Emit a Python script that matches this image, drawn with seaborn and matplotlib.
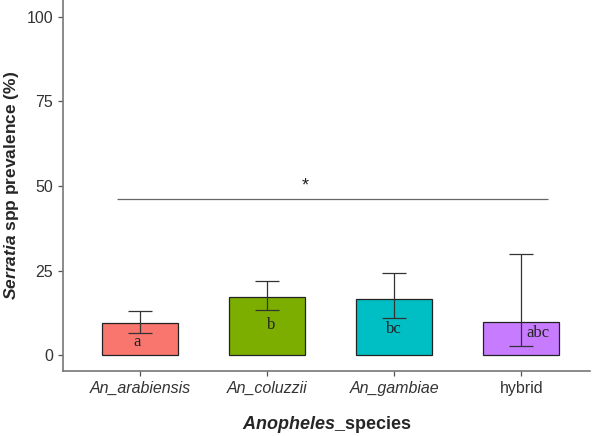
import numpy as np
import pandas as pd
import matplotlib
matplotlib.use("Agg")
import matplotlib.pyplot as plt
import seaborn as sns

species = ["An_arabiensis", "An_coluzzii", "An_gambiae", "hybrid"]
prevalence = [9.5, 17.2, 16.6, 9.9]
ci_low = [6.5, 13.3, 11.0, 2.7]
ci_high = [13.0, 21.9, 24.3, 29.9]
letters = ["a", "b", "bc", "abc"]
letter_y = [3.8, 8.9, 7.7, 6.5]
letter_dx = [-0.02, 0.03, 0.0, 0.13]
colors = ["#F8766D", "#7CAE00", "#00BFC4", "#C77CFF"]
sig_y = 46.1

sns.set_style("white")
plt.rcParams["font.family"] = ["Liberation Sans", "DejaVu Sans"]
plt.rcParams["mathtext.fontset"] = "custom"
plt.rcParams["mathtext.rm"] = "Liberation Sans:bold"
plt.rcParams["mathtext.it"] = "Liberation Sans:italic:bold"
plt.rcParams["mathtext.bf"] = "Liberation Sans:bold"

df = pd.DataFrame({"species": species, "prevalence": prevalence})

fig = plt.figure(figsize=(5.97, 4.36), dpi=100)
ax = fig.add_axes([0.1055, 0.149, 0.8825, 0.851])

sns.barplot(data=df, x="species", y="prevalence", hue="species", palette=colors,
            saturation=1, width=0.6, edgecolor="#222222", linewidth=0.9,
            legend=False, ax=ax)

pos = np.arange(len(species))
yerr = [np.array(prevalence) - np.array(ci_low), np.array(ci_high) - np.array(prevalence)]
ax.errorbar(pos, prevalence, yerr=yerr, fmt="none", ecolor="#333333",
            elinewidth=0.9, capsize=8.6, capthick=0.9)

for i in range(len(species)):
    ax.text(pos[i] + letter_dx[i], letter_y[i], letters[i], ha="center", va="center",
            fontsize=12, family="Liberation Serif", color="#222222")

# significance line
ax.hlines(sig_y, -0.18, 3.21, color="#666666", lw=0.9)
ax.text(1.30, sig_y + 3.8, "*", ha="center", va="center", fontsize=13, color="#222222")

ax.set_xlim(-0.606, 3.54)
ax.set_ylim(-4.7, 105)
ax.set_yticks([0, 25, 50, 75, 100])

ax.set_xticks(pos)
ax.set_xticklabels(species)
for lab in ax.get_xticklabels():
    if lab.get_text() != "hybrid":
        lab.set_style("italic")
ax.tick_params(axis="both", labelsize=11.5, labelcolor="#333333", colors="#555555",
               length=3.5, width=0.9, direction="out", left=True, bottom=True)

for s in ["top", "right"]:
    ax.spines[s].set_visible(False)
for s in ["left", "bottom"]:
    ax.spines[s].set_color("#777777")
    ax.spines[s].set_linewidth(1.2)

ax.set_ylabel(r"$\it{Serratia}$ spp prevalence (%)", fontsize=12.5, fontweight="bold", labelpad=4)
ax.set_xlabel(r"$\it{Anopheles}$_species", fontsize=13, fontweight="bold", labelpad=13)

fig.savefig("out.png", dpi=100)
